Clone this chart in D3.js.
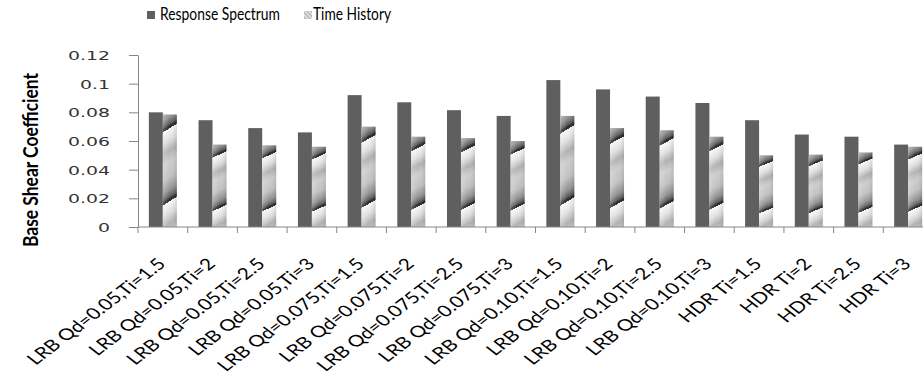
<!DOCTYPE html>
<html>
<head>
<meta charset="utf-8">
<script src="https://cdn.jsdelivr.net/npm/d3@7/dist/d3.min.js"></script>
<style>
  body { margin: 0; background: #fff; }
  svg { display: block; }
</style>
</head>
<body>
<svg id="chart" width="923" height="379"></svg>
<script>
// Base shear coefficient by isolator configuration
const categories = [
  "LRB Qd=0.05,Ti=1.5", "LRB Qd=0.05,Ti=2", "LRB Qd=0.05,Ti=2.5", "LRB Qd=0.05,Ti=3",
  "LRB Qd=0.075,Ti=1.5", "LRB Qd=0.075,Ti=2", "LRB Qd=0.075,Ti=2.5", "LRB Qd=0.075,Ti=3",
  "LRB Qd=0.10,Ti=1.5", "LRB Qd=0.10,Ti=2", "LRB Qd=0.10,Ti=2.5", "LRB Qd=0.10,Ti=3",
  "HDR Ti=1.5", "HDR Ti=2", "HDR Ti=2.5", "HDR Ti=3"
];
const seriesNames = ["Response Spectrum", "Time History"];
const responseSpectrum = [0.080, 0.0745, 0.069, 0.066, 0.092, 0.087, 0.0815, 0.0775,
                          0.1025, 0.096, 0.091, 0.0865, 0.0745, 0.0645, 0.063, 0.0575];
const timeHistory = [0.0785, 0.0575, 0.057, 0.056, 0.070, 0.063, 0.062, 0.060,
                     0.0775, 0.069, 0.0675, 0.063, 0.050, 0.0505, 0.052, 0.056];
const yTicks = [0, 0.02, 0.04, 0.06, 0.08, 0.1, 0.12];
const yTickLabels = ["0", "0.02", "0.04", "0.06", "0.08", "0.1", "0.12"];
const yTitle = "Base Shear Coefficient";

const svg = d3.select("#chart");
const W = 923, H = 379;
svg.append("rect").attr("width", W).attr("height", H).attr("fill", "#fff");

const axisColor = "#868686";
const darkFill = "#5f5f5f";
const stretch = 1.45; // horizontal text stretch

// Striped texture for the time-history bars: a repeating diagonal gradient
// laid out in each bar's own bounding box
const defs = svg.append("defs");
const bandA = 0.12, bandB = 1.54;           // slope / frequency in bbox units
const n2 = bandA * bandA + bandB * bandB;
const grad = defs.append("linearGradient").attr("id", "thGrad")
  .attr("gradientUnits", "objectBoundingBox")
  .attr("spreadMethod", "repeat")
  .attr("x1", 0).attr("y1", 0.16)
  .attr("x2", bandA / n2).attr("y2", 0.16 + bandB / n2);
[[0, "#f8f8f8"], [0.15, "#e0e0e0"], [0.3, "#b2b2b2"], [0.45, "#cdcdcd"],
 [0.66, "#c2c2c2"], [0.84, "#939393"], [0.93, "#606060"], [0.975, "#262626"], [1, "#3a3a3a"]]
  .forEach(([o, c]) => grad.append("stop").attr("offset", o).attr("stop-color", c));
// Horizontal shading across each bar
const shade = defs.append("linearGradient").attr("id", "thShade")
  .attr("x1", 0).attr("y1", 0).attr("x2", 1).attr("y2", 0);
[[0, "#fff", 0.2], [0.5, "#fff", 0], [1, "#000", 0.1]]
  .forEach(([o, c, a]) => shade.append("stop").attr("offset", o)
    .attr("stop-color", c).attr("stop-opacity", a));

// Small hatch for the legend swatch
const hatch = defs.append("pattern").attr("id", "thHatch")
  .attr("patternUnits", "userSpaceOnUse").attr("width", 3).attr("height", 3)
  .attr("patternTransform", "rotate(-45)");
hatch.append("rect").attr("width", 3).attr("height", 3).attr("fill", "#bdbdbd");
hatch.append("rect").attr("width", 1).attr("height", 3).attr("fill", "#f2f2f2");

// Scales
const y = d3.scaleLinear().domain([0, 0.12]).range([227, 55]);
const pad = 0.437;
const x = d3.scaleBand().domain(categories).range([138, 933])
  .paddingInner(pad).paddingOuter(pad / 2);
const xs = d3.scaleBand().domain(seriesNames).range([0, x.bandwidth()]);

// Bars
const rows = categories.map((c, i) => ({ c, values: [responseSpectrum[i], timeHistory[i]] }));
const groups = svg.append("g").selectAll("g").data(rows).join("g")
  .attr("transform", d => `translate(${x(d.c)},0)`);
const bars = groups.selectAll("g").data(d => d.values.map((v, k) => ({ v, s: seriesNames[k] })))
  .join("g");
bars.append("rect")
  .attr("x", d => xs(d.s))
  .attr("width", xs.bandwidth())
  .attr("y", d => y(d.v))
  .attr("height", d => y(0) - y(d.v))
  .attr("fill", d => d.s === seriesNames[0] ? darkFill : "url(#thGrad)");
bars.filter(d => d.s === seriesNames[1]).append("rect")
  .attr("x", d => xs(d.s))
  .attr("width", xs.bandwidth())
  .attr("y", d => y(d.v))
  .attr("height", d => y(0) - y(d.v))
  .attr("fill", "url(#thShade)");

// Y axis
const yAxis = svg.append("g").attr("transform", `translate(${x.range()[0]},0)`)
  .call(d3.axisLeft(y).tickValues(yTicks).tickSize(9).tickSizeOuter(0)
    .tickFormat((d, i) => yTickLabels[i]));
yAxis.select(".domain").attr("stroke", axisColor);
yAxis.selectAll(".tick line").attr("stroke", axisColor);
yAxis.selectAll(".tick text")
  .attr("x", null).attr("dy", null)
  .attr("dominant-baseline", "central")
  .attr("text-anchor", "end")
  .attr("transform", `translate(-28,0) scale(${stretch},1)`)
  .attr("font-family", "DejaVu Sans").attr("font-size", 13).attr("fill", "#333");

// X axis line and category boundary ticks
const x0 = x.range()[0];
svg.append("line").attr("x1", x0).attr("x2", W).attr("y1", y(0)).attr("y2", y(0))
  .attr("stroke", axisColor);
svg.append("g").selectAll("line").data(d3.range(0, categories.length + 1)).join("line")
  .attr("x1", i => x0 + i * x.step()).attr("x2", i => x0 + i * x.step())
  .attr("y1", y(0)).attr("y2", y(0) + 6)
  .attr("stroke", axisColor);

// Category labels (rotated, slightly stretched)
svg.append("g").selectAll("text").data(categories).join("text")
  .attr("transform", c => `translate(${x(c) + x.bandwidth() / 2 + 4},265) scale(1.3,1) rotate(-45)`)
  .attr("text-anchor", "end")
  .attr("font-family", "Lato").attr("font-size", 16).attr("fill", "#000")
  .text(c => c);

// Y axis title
svg.append("text")
  .attr("transform", `translate(38,160) scale(${stretch},1) rotate(-90)`)
  .attr("text-anchor", "middle")
  .attr("font-family", "Lato").attr("font-weight", 700).attr("font-size", 14)
  .attr("textLength", 174).attr("lengthAdjust", "spacingAndGlyphs")
  .attr("fill", "#000")
  .text(yTitle);

// Legend
const legend = [
  { name: seriesNames[0], x: 147, fill: darkFill, len: 120 },
  { name: seriesNames[1], x: 304, fill: "url(#thHatch)", len: 78 }
];
const lg = svg.append("g").selectAll("g").data(legend).join("g");
lg.append("rect").attr("x", d => d.x).attr("y", 11).attr("width", 8).attr("height", 8)
  .attr("fill", d => d.fill);
lg.append("text").attr("x", d => d.x + (d.name === seriesNames[0] ? 13 : 9)).attr("y", 20)
  .attr("font-family", "Lato").attr("font-size", 17).attr("fill", "#000")
  .attr("textLength", d => d.len).attr("lengthAdjust", "spacingAndGlyphs")
  .text(d => d.name);
</script>
</body>
</html>
